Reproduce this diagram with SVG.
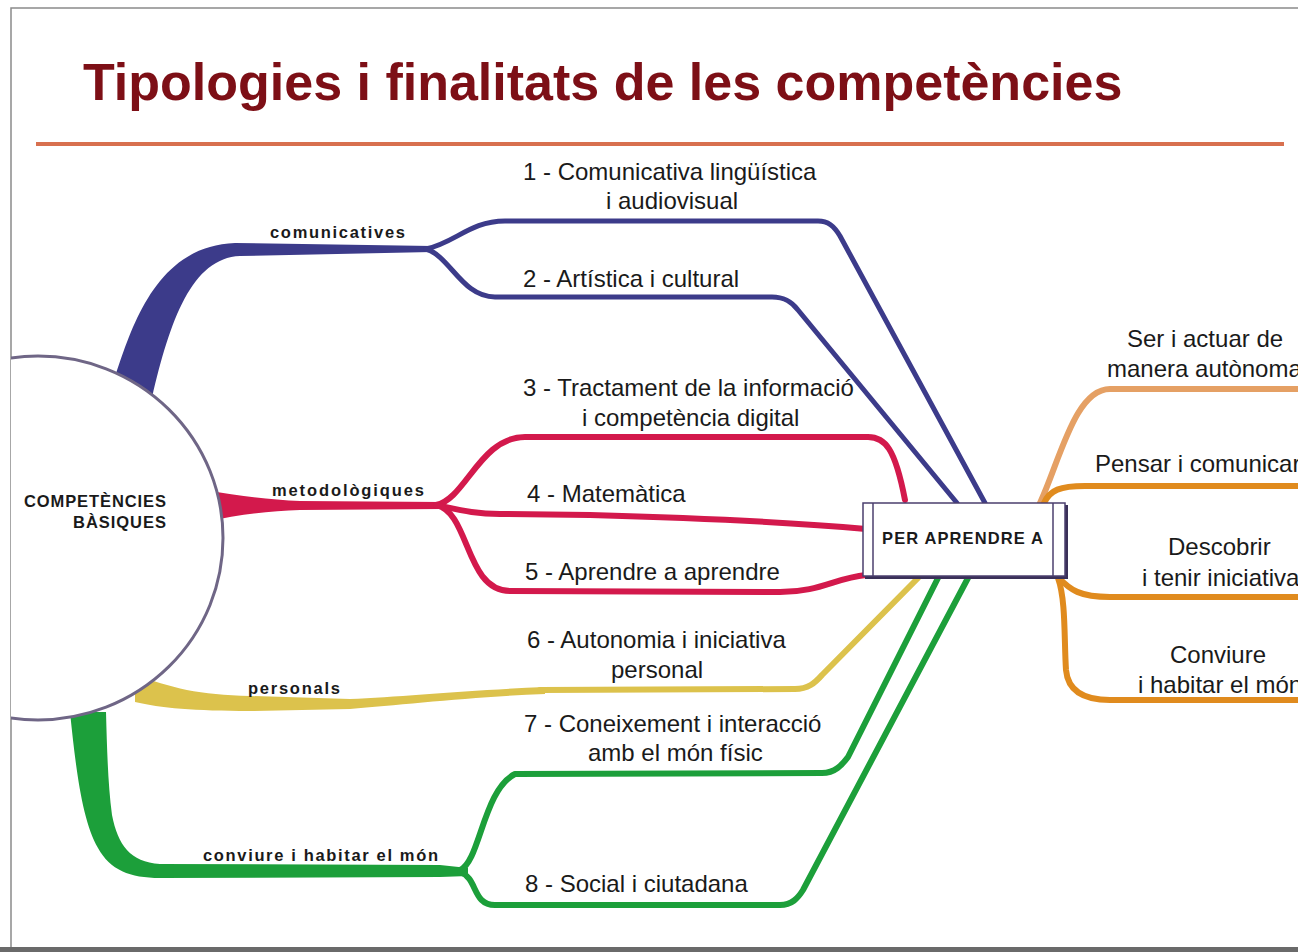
<svg xmlns="http://www.w3.org/2000/svg" width="1298" height="952" viewBox="0 0 1298 952">
<defs>
<style>
.lbl{font-family:"Liberation Sans",Arial,sans-serif;font-size:24px;fill:#1a1a1a}
.cat{font-family:"Liberation Sans",Arial,sans-serif;font-size:16.5px;font-weight:bold;fill:#1a1a1a}
.ln{fill:none;stroke-linecap:round;stroke-linejoin:round}
.blue{stroke:#3c3b8a;stroke-width:5}
.red{stroke:#d3194c;stroke-width:6}
.yel{stroke:#dcc24c;stroke-width:6}
.grn{stroke:#1c9f3a;stroke-width:6}
.org{stroke:#e08b1e;stroke-width:6}
.org2{stroke:#e5a064;stroke-width:6}
</style>
<clipPath id="frame"><rect x="11" y="8" width="1300" height="940"/></clipPath>
</defs>
<rect x="0" y="0" width="1298" height="952" fill="#ffffff"/>
<g id="frame-border">
<rect x="11" y="8" width="1300" height="940" fill="#ffffff" stroke="#8a8a8a" stroke-width="1.5"/>
<rect x="0" y="947" width="1298" height="5" fill="#6a6a6a"/>
</g>
<g id="title">
<text x="83" y="100" font-family="Liberation Sans, Arial, sans-serif" font-size="52" font-weight="bold" fill="#7d0f16">Tipologies i finalitats de les competències</text>
<line x1="36" y1="144" x2="1284" y2="144" stroke="#d8704f" stroke-width="4"/>
</g>
<g id="connectors" clip-path="url(#frame)">
<path fill="#3c3b8a" d="M 110 392 C 128 340, 150 246, 235 243 L 432 246 L 432 252 L 240 256 C 192 258, 170 320, 152 398 Z"/>
<path class="ln blue" d="M 426 249 C 455 243, 470 221, 505 221 L 818 221 C 828 221, 834 226, 840 236 L 985 503"/>
<path class="ln blue" d="M 426 249 C 450 256, 462 297, 495 297 L 772 297 C 785 297, 792 302, 798 310 L 957 503"/>
<path fill="#d3194c" d="M 205 490 C 240 496, 270 500, 300 501 L 442 502 L 442 509 L 300 510 C 270 511, 240 514, 205 522 Z"/>
<path class="ln red" d="M 436 505 C 465 500, 480 437, 525 437 L 868 437 C 885 437, 895 448, 905 500"/>
<path class="ln red" d="M 436 505 C 460 510, 475 514, 500 514 L 590 515 C 700 518, 790 522, 866 529"/>
<path class="ln red" d="M 436 505 C 470 512, 465 591, 510 591 L 780 592 C 820 592, 835 578, 866 575"/>
<path fill="#dcc24c" d="M 135 674 C 170 688, 200 695, 250 696 L 350 699 C 400 697, 470 690, 545 687 L 545 694 C 470 697, 400 705, 350 709 L 250 711 C 195 711, 160 708, 135 702 Z"/>
<path class="ln yel" d="M 540 690 L 795 689 C 808 689, 815 683, 822 675 L 918 578"/>
<path fill="#1c9f3a" d="M 70 712 C 76 770, 82 820, 98 848 C 110 870, 130 878, 160 878 L 440 877 L 468 876 L 468 868 L 440 865 L 160 864 C 130 862, 118 845, 112 815 C 108 785, 107 750, 106 712 Z"/>
<path class="ln grn" d="M 460 870 C 480 862, 483 790, 515 774 L 822 773 C 835 773, 842 765, 848 757 L 938 578"/>
<path class="ln grn" d="M 460 872 C 478 878, 472 905, 495 905 L 780 905 C 792 905, 798 898, 803 890 L 968 578"/>
<path class="ln org2" d="M 1040 503 C 1060 460, 1075 389, 1110 389 L 1305 389"/>
<path class="ln org" d="M 1044 503 C 1050 490, 1060 486, 1085 486 L 1305 486"/>
<path class="ln org" d="M 1058 577 C 1070 590, 1080 597, 1110 597 L 1305 597"/>
<path class="ln org" d="M 1058 578 C 1066 600, 1064 640, 1066 670 C 1068 692, 1085 700, 1110 700 L 1305 700"/>
</g>
<g id="node-competencies" clip-path="url(#frame)">
<ellipse cx="38" cy="538" rx="185" ry="182" fill="#ffffff" stroke="#6f6686" stroke-width="3"/>
<text class="cat" x="166" y="507" font-size="17" text-anchor="end" textLength="142">COMPETÈNCIES</text>
<text class="cat" x="166" y="528" font-size="17" text-anchor="end" textLength="93">BÀSIQUES</text>
</g>
<g id="node-per-aprendre">
<rect x="865" y="505" width="203" height="74" fill="#3a3058"/>
<rect x="863" y="503" width="202" height="73" fill="#ffffff" stroke="#4b3f6e" stroke-width="1.5"/>
<line x1="873" y1="503" x2="873" y2="576" stroke="#4b3f6e" stroke-width="1.5"/>
<line x1="1053" y1="503" x2="1053" y2="576" stroke="#4b3f6e" stroke-width="1.5"/>
<text class="cat" x="882" y="544" font-size="17" textLength="161">PER APRENDRE A</text>
</g>
<g id="category-labels">
<text class="cat" x="270" y="238" textLength="135">comunicatives</text>
<text class="cat" x="272" y="496" textLength="152">metodològiques</text>
<text class="cat" x="248" y="694" textLength="92">personals</text>
<text class="cat" x="203" y="861" textLength="235">conviure i habitar el món</text>
</g>
<g id="competence-labels">
<text class="lbl" x="523" y="180">1 - Comunicativa lingüística</text>
<text class="lbl" x="606" y="209">i audiovisual</text>
<text class="lbl" x="523" y="287">2 - Artística i cultural</text>
<text class="lbl" x="523" y="396">3 - Tractament de la informació</text>
<text class="lbl" x="582" y="426">i competència digital</text>
<text class="lbl" x="527" y="502">4 - Matemàtica</text>
<text class="lbl" x="525" y="580">5 - Aprendre a aprendre</text>
<text class="lbl" x="527" y="648">6 - Autonomia i iniciativa</text>
<text class="lbl" x="611" y="678">personal</text>
<text class="lbl" x="524" y="732">7 - Coneixement i interacció</text>
<text class="lbl" x="588" y="761">amb el món físic</text>
<text class="lbl" x="525" y="892">8 - Social i ciutadana</text>
</g>
<g id="purpose-labels">
<text class="lbl" x="1127" y="347">Ser i actuar de</text>
<text class="lbl" x="1107" y="377">manera autònoma</text>
<text class="lbl" x="1095" y="472">Pensar i comunicar</text>
<text class="lbl" x="1168" y="555">Descobrir</text>
<text class="lbl" x="1142" y="586">i tenir iniciativa</text>
<text class="lbl" x="1170" y="663">Conviure</text>
<text class="lbl" x="1138" y="693">i habitar el món</text>
</g>
</svg>
